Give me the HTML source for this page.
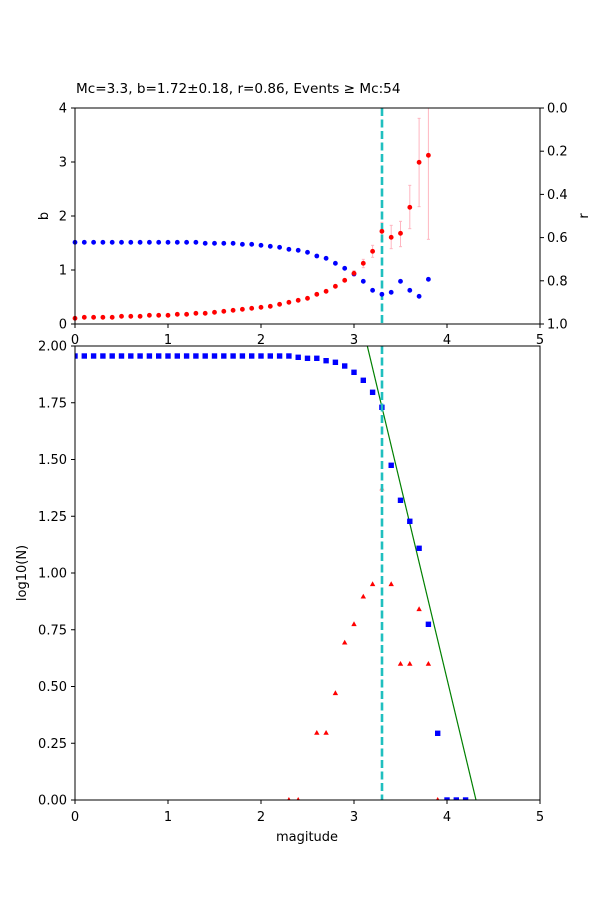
<!DOCTYPE html>
<html><head><meta charset="utf-8"><style>
html,body{margin:0;padding:0;background:#fff;}
svg{display:block;font-family:"DejaVu Sans","Liberation Sans",sans-serif;}
</style></head><body>
<svg id="s" width="600" height="900" xmlns="http://www.w3.org/2000/svg">
<rect width="600" height="900" fill="#fff"/>
<text x="76" y="93" font-size="13.6" fill="#000">Mc=3.3, b=1.72±0.18, r=0.86, Events ≥ Mc:54</text>
<g id="g"></g>
</svg>
<script>
const g=document.getElementById('g');let h='';
const X=m=>75+93*m;
h+='<defs><clipPath id="ct"><rect x="75" y="108" width="465" height="216"/></clipPath><clipPath id="cb"><rect x="75" y="346" width="465" height="454"/></clipPath></defs>';
const eb=[[3.0,512,528],[3.1,478,503],[3.2,436,472],[3.3,367,420],[3.4,376,446],[3.5,364,440],[3.6,256,386],[3.7,55,320],[3.8,0,418]];
h+='<g clip-path="url(#ct)" stroke="#ffb6c1" stroke-width="1">';
for(const [m,a,b] of eb){const x=X(m),y1=100+a/3,y2=100+b/3;h+=`<line x1="${x}" y1="${y1}" x2="${x}" y2="${y2}"/><line x1="${x-1.5}" y1="${y1}" x2="${x+1.5}" y2="${y1}"/><line x1="${x-1.5}" y1="${y2}" x2="${x+1.5}" y2="${y2}"/>`;}
h+='</g>';
h+='<line x1="382" y1="108" x2="382" y2="324" stroke="#1fbfbf" stroke-width="2.6" stroke-dasharray="8,3.5"/>';
const blue=[];for(let i=0;i<=13;i++)blue.push(427);
blue.push(430,430,430,430,433,433,436,439,442,448,451,457,468,475,490,505,522,544,571,583,577,544,571,589,538);
const red=[655,652,652,652,652,649,649,649,646,646,646,643,643,640,640,637,634,631,628,625,622,619,613,607,601,595,583,574,559,541,520,490,454,394,412,400,322,187,166];
blue.forEach((v,i)=>h+=`<circle cx="${X(i/10)}" cy="${100+v/3}" r="2.4" fill="#0000ff"/>`);
red.forEach((v,i)=>h+=`<circle cx="${X(i/10)}" cy="${100+v/3}" r="2.4" fill="#ff0000"/>`);
h+='<rect x="75" y="108" width="465" height="216" fill="none" stroke="#000" stroke-width="1"/>';
for(let i=0;i<=5;i++){const x=X(i);h+=`<line x1="${x}" y1="324" x2="${x}" y2="328" stroke="#000"/><text x="${x}" y="344" font-size="13" text-anchor="middle">${i}</text>`;}
for(let i=0;i<=4;i++){const y=324-54*i;h+=`<line x1="71" y1="${y}" x2="75" y2="${y}" stroke="#000"/><text x="67" y="${y+4.5}" font-size="13" text-anchor="end">${i}</text>`;}
for(let i=0;i<=5;i++){const y=108+43.2*i;h+=`<line x1="540" y1="${y}" x2="544" y2="${y}" stroke="#000"/><text x="547" y="${y+4.5}" font-size="13">${(i/5).toFixed(1)}</text>`;}
h+='<text transform="translate(48,216) rotate(-90)" font-size="13" text-anchor="middle">b</text>';
h+='<text transform="translate(588,216) rotate(-90)" font-size="13" text-anchor="middle">r</text>';
h+='<g clip-path="url(#cb)">';
h+='<line x1="367.3" y1="346" x2="476" y2="800" stroke="#008000" stroke-width="1.2"/>';
const tri=[[2.3,800],[2.4,800],[2.6,733],[2.7,733],[2.8,693.3],[2.9,642.7],[3.0,624.3],[3.1,596.7],[3.2,584.3],[3.4,584.3],[3.5,664],[3.6,664],[3.7,609.3],[3.8,664],[3.9,800]];
for(const [m,y] of tri){const x=X(m);h+=`<polygon points="${x},${y-3} ${x-2.7},${y+1.8} ${x+2.7},${y+1.8}" fill="#ff0000"/>`;}
h+=`<polygon points="${X(3.3)},${488.7-3} ${X(3.3)-2.7},${488.7+1.8} ${X(3.3)+2.7},${488.7+1.8}" fill="#ff9999"/>`;
const sq=[];for(let i=0;i<=23;i++)sq.push(356);
sq.push(357.3,358.3,358.3,360.7,362.3,366,372.3,380.3,392.3,407.3,465.3,500.3,521.3,548.3,624.3,733.3,800,800,800);
sq.forEach((y,i)=>{const x=X(i/10);h+=`<rect x="${x-2.7}" y="${y-2.7}" width="5.4" height="5.4" fill="#0000ff"/>`;});
h+='</g>';
h+='<line x1="382" y1="346" x2="382" y2="800" stroke="#1fbfbf" stroke-width="2.6" stroke-dasharray="8,3.5"/>';
h+='<rect x="75" y="346" width="465" height="454" fill="none" stroke="#000" stroke-width="1"/>';
for(let i=0;i<=5;i++){const x=X(i);h+=`<line x1="${x}" y1="800" x2="${x}" y2="804" stroke="#000"/><text x="${x}" y="821" font-size="13" text-anchor="middle">${i}</text>`;}
for(let i=0;i<=8;i++){const y=800-56.75*i;h+=`<line x1="71" y1="${y}" x2="75" y2="${y}" stroke="#000"/><text x="67" y="${y+4.5}" font-size="13" text-anchor="end">${(i*0.25).toFixed(2)}</text>`;}
h+='<text x="307" y="841" font-size="13" text-anchor="middle">magitude</text>';
h+='<text transform="translate(26,573) rotate(-90)" font-size="13" text-anchor="middle">log10(N)</text>';
g.innerHTML=h;
</script>
</body></html>
